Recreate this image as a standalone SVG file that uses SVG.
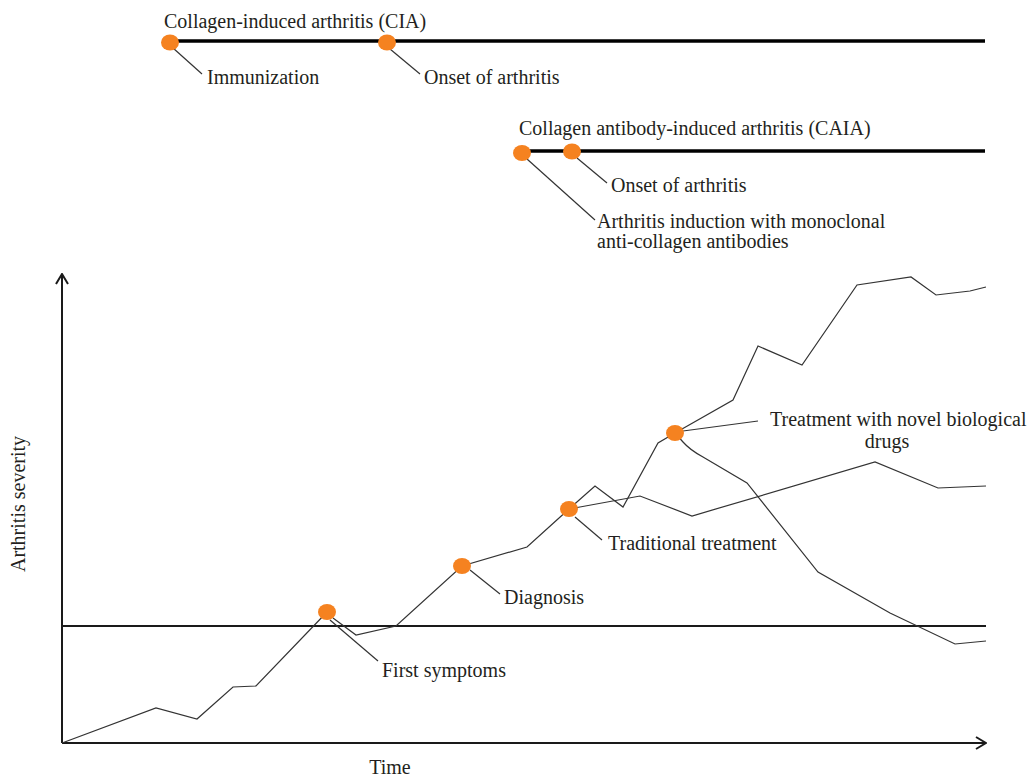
<svg xmlns="http://www.w3.org/2000/svg" width="1032" height="776" viewBox="0 0 1032 776">
<style>
text{font-family:"Liberation Serif","Times New Roman",serif;font-size:20px;fill:#231f20}
.tl{stroke:#000;stroke-width:3.5;fill:none}
.ax{stroke:#1a1a1a;stroke-width:2;fill:none}
.cv{stroke:#333;stroke-width:1.2;fill:none;stroke-linejoin:miter}
.co{stroke:#333;stroke-width:1.2;fill:none}
.dot{fill:#f58220}
</style>
<defs>
<marker id="ah" viewBox="0 0 12 14" refX="11" refY="7" markerWidth="12" markerHeight="14" markerUnits="userSpaceOnUse" orient="auto">
<path d="M1,1 L11,7 L1,13" fill="none" stroke="#1a1a1a" stroke-width="2"/>
</marker>
</defs>
<g id="axes">
<line class="ax" x1="62" y1="743" x2="62" y2="274" marker-end="url(#ah)"/>
<line class="ax" x1="62" y1="743" x2="986" y2="743" marker-end="url(#ah)"/>
<line class="ax" x1="62" y1="626" x2="986" y2="626"/>
<text x="25" y="504" text-anchor="middle" transform="rotate(-90 25 504)">Arthritis severity</text>
<text x="390" y="774" text-anchor="middle">Time</text>
</g>
<g id="connectors">
<polyline class="cv" points="62,743 156,708 197,719 233,687 256,686 327,612"/>
<polyline class="cv" points="333,618 356,635 396,626 462,566 527,547 569,509 595,486 623,507 658,443 675,433"/>
<polyline class="cv" points="675,433 733,400 758,346 802,365 857,285 911,277 936,295 970,291 986,287"/>
<polyline class="cv" points="569,509 640,496 692,516 875,462 938,488 986,486"/>
<path class="cv" d="M675,433 L683,442 Q690,450 703,457 L747,483 L818,572 L890,613 L955,644 L986,641"/>
<line class="co" x1="330" y1="620" x2="378" y2="661"/>
<line class="co" x1="470" y1="570" x2="500" y2="594"/>
<line class="co" x1="575" y1="517" x2="602" y2="540"/>
<line class="co" x1="683" y1="431" x2="758" y2="421"/>
<line class="co" x1="173" y1="48" x2="202" y2="74"/>
<line class="co" x1="390" y1="49" x2="420" y2="74"/>
<line class="co" x1="577" y1="158" x2="607" y2="183"/>
<line class="co" x1="527" y1="159" x2="595" y2="220"/>
</g>
<g id="cia">
<line class="tl" x1="170" y1="41" x2="985" y2="41"/>
<text x="164" y="28">Collagen-induced arthritis (CIA)</text>
</g>
<g id="immunization">
<ellipse class="dot" cx="170" cy="42.5" rx="9" ry="8"/>
<text x="207" y="84">Immunization</text>
</g>
<g id="cia-onset">
<ellipse class="dot" cx="387" cy="42.5" rx="9" ry="8"/>
<text x="424" y="84">Onset of arthritis</text>
</g>
<g id="caia">
<line class="tl" x1="522" y1="151" x2="985" y2="151"/>
<text x="519" y="135">Collagen antibody-induced arthritis (CAIA)</text>
</g>
<g id="caia-induction">
<ellipse class="dot" cx="522" cy="153" rx="9" ry="8"/>
<text x="597" y="228">Arthritis induction with monoclonal</text>
<text x="597" y="248">anti-collagen antibodies</text>
</g>
<g id="caia-onset">
<ellipse class="dot" cx="572" cy="151.5" rx="9" ry="8"/>
<text x="611" y="192">Onset of arthritis</text>
</g>
<g id="first-symptoms">
<ellipse class="dot" cx="327" cy="612" rx="9" ry="8"/>
<text x="382" y="677">First symptoms</text>
</g>
<g id="diagnosis">
<ellipse class="dot" cx="462" cy="566" rx="9" ry="8"/>
<text x="504" y="604">Diagnosis</text>
</g>
<g id="traditional">
<ellipse class="dot" cx="569" cy="509" rx="9" ry="8"/>
<text x="608" y="550">Traditional treatment</text>
</g>
<g id="novel">
<ellipse class="dot" cx="675" cy="433" rx="9" ry="8"/>
<text x="770" y="426">Treatment with novel biological</text>
<text x="887" y="448" text-anchor="middle">drugs</text>
</g>
</svg>
